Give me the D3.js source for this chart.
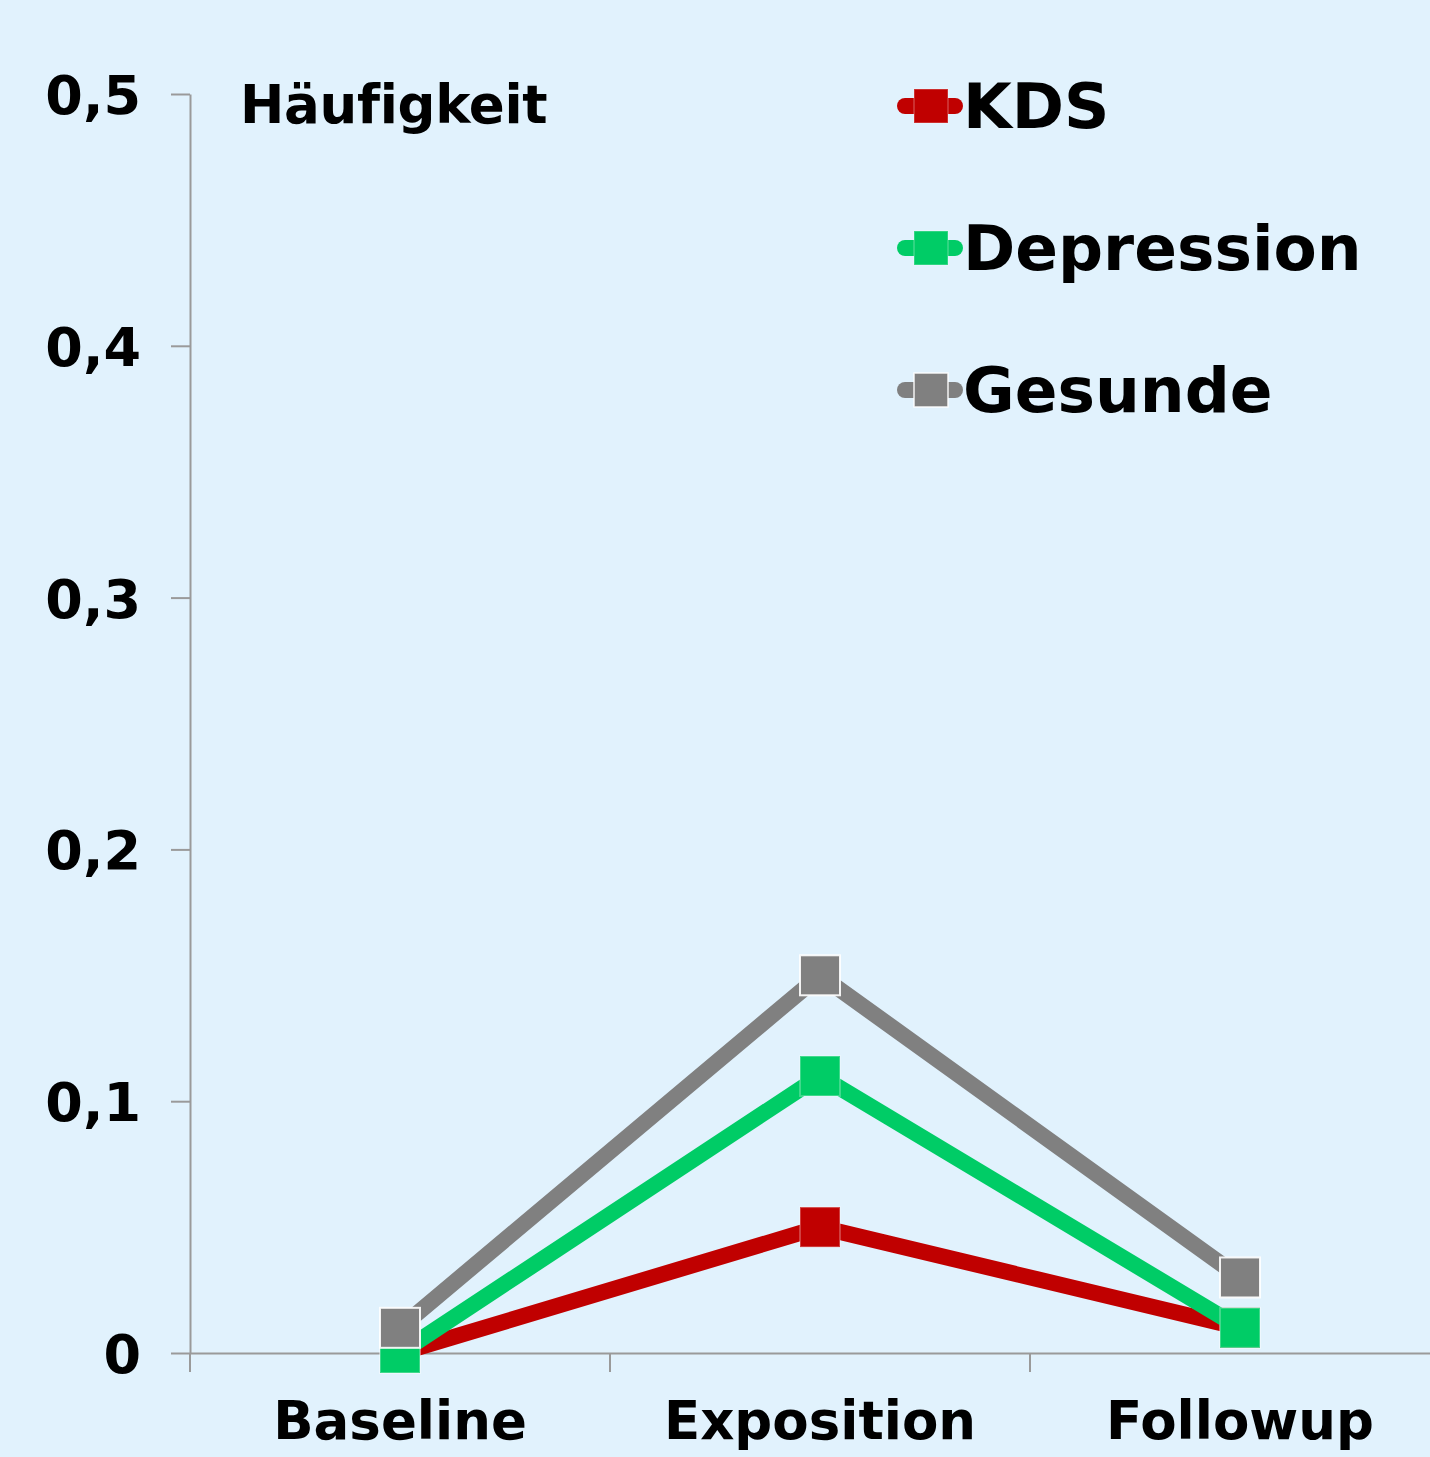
<!DOCTYPE html>
<html>
<head>
<meta charset="utf-8">
<script src="https://cdn.jsdelivr.net/npm/d3@7"></script>
<style>
  html, body { margin: 0; padding: 0; background: #E1F2FD; }
  svg { display: block; }
  text { font-family: "DejaVu Sans", Verdana, sans-serif; font-weight: bold; fill: #000; }
</style>
</head>
<body>
<svg id="chart" width="1430" height="1457"></svg>
<script>
// ---- data ----
const categories = ["Baseline", "Exposition", "Followup"];
const seriesNames = ["KDS", "Depression", "Gesunde"];
const kdsValues = [0, 0.05, 0.01];
const depressionValues = [0, 0.11, 0.01];
const gesundeValues = [0.01, 0.15, 0.03];
const yTickValues = [0, 0.1, 0.2, 0.3, 0.4, 0.5];
const yTickLabels = ["0", "0,1", "0,2", "0,3", "0,4", "0,5"];
const yAxisTitle = "Häufigkeit";
const seriesColors = ["#C00000", "#00CC66", "#808080"];
const markerStrokes = ["rgba(255,255,255,0.25)", "rgba(255,255,255,0.25)", "rgba(255,255,255,0.9)"];

const seriesValues = [kdsValues, depressionValues, gesundeValues];

const svg = d3.select("#chart");
svg.append("rect").attr("width", 1430).attr("height", 1457).attr("fill", "#E1F2FD");

const x = d3.scaleBand().domain(categories).range([190, 1450]).padding(0);
const y = d3.scaleLinear().domain([0, 0.5]).range([1353, 94]);

const axisColor = "#9a9a9a";

// y axis
const yAxis = d3.axisLeft(y)
  .tickValues(yTickValues)
  .tickFormat((d, i) => yTickLabels[i])
  .tickSize(19)
  .tickSizeOuter(0)
  .tickPadding(30);
const gy = svg.append("g").attr("transform", "translate(190,0)").call(yAxis);
gy.select(".domain").attr("stroke", axisColor).attr("stroke-width", 2);
gy.selectAll(".tick line").attr("stroke", axisColor).attr("stroke-width", 2);
gy.selectAll(".tick text")
  .attr("font-size", 54)
  .attr("font-family", "DejaVu Sans")
  .attr("font-weight", "bold")
  .attr("fill", "#000")
  .attr("dy", "0.36em");

// x axis
const xAxis = d3.axisBottom(x).tickSize(0).tickSizeOuter(0).tickPadding(48);
const gx = svg.append("g").attr("transform", `translate(0,${y(0)})`).call(xAxis);
gx.select(".domain").attr("stroke", axisColor).attr("stroke-width", 2);
gx.selectAll(".tick text")
  .attr("font-size", 53)
  .attr("font-family", "DejaVu Sans")
  .attr("font-weight", "bold")
  .attr("fill", "#000")
  .attr("dy", "0.72em");
// boundary ticks
const boundaries = categories.map(c => x(c)).concat([x.range()[1]]);
gx.selectAll(".btick").data(boundaries).enter().append("line")
  .attr("class", "btick")
  .attr("x1", d => d).attr("x2", d => d)
  .attr("y1", 0).attr("y2", 19)
  .attr("stroke", axisColor).attr("stroke-width", 2);

// axis title
svg.append("text")
  .attr("x", 240).attr("y", 123)
  .attr("font-size", 53)
  .attr("letter-spacing", -0.3)
  .text(yAxisTitle);

// lines and markers
const line = d3.line()
  .x((d, i) => x(categories[i]) + x.bandwidth() / 2)
  .y(d => y(d));

const msize = 40;
seriesValues.forEach((vals, si) => {
  const g = svg.append("g");
  g.append("path")
    .datum(vals)
    .attr("d", line)
    .attr("fill", "none")
    .attr("stroke", seriesColors[si])
    .attr("stroke-width", 16)
    .attr("stroke-linejoin", "miter");
  g.selectAll("rect").data(vals).enter().append("rect")
    .attr("x", (d, i) => x(categories[i]) + x.bandwidth() / 2 - msize / 2)
    .attr("y", d => y(d) - msize / 2)
    .attr("width", msize).attr("height", msize)
    .attr("fill", seriesColors[si])
    .attr("stroke", markerStrokes[si])
    .attr("stroke-width", 2);
});

// legend
const legendY = [106, 248, 390];
const legend = svg.append("g");
seriesNames.forEach((name, si) => {
  const ly = legendY[si];
  legend.append("line")
    .attr("x1", 905).attr("x2", 955)
    .attr("y1", ly).attr("y2", ly)
    .attr("stroke", seriesColors[si])
    .attr("stroke-width", 16)
    .attr("stroke-linecap", "round");
  legend.append("rect")
    .attr("x", 931 - 17).attr("y", ly - 17)
    .attr("width", 34).attr("height", 34)
    .attr("fill", seriesColors[si])
    .attr("stroke", markerStrokes[si])
    .attr("stroke-width", 1.5);
  legend.append("text")
    .attr("x", 963).attr("y", ly + 22)
    .attr("font-size", 63)
    .text(name);
});
</script>
</body>
</html>
